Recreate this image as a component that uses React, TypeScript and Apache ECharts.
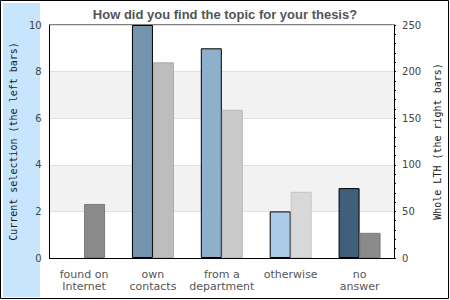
import React, { useEffect, useRef } from "react";
import * as echarts from "echarts";

const categories = ["found on\nInternet", "own\ncontacts", "from a\ndepartment", "otherwise", "no\nanswer"];
const currentValues = [0, 10, 9, 2, 3];
const wholeValues = [58, 210, 159, 71, 27];
const currentColors = ["#7393ae", "#7393ae", "#8fb0cc", "#abcce8", "#3f5f7a"];
const wholeColors = ["#8a8a8a", "#bdbdbd", "#cacaca", "#d8d8d8", "#8a8a8a"];
const wholeBorders = ["#7a7a7a", "#adadad", "#bababa", "#c4c4c4", "#7a7a7a"];
const title = "How did you find the topic for your thesis?";
const leftName = "Current selection (the left bars)";
const rightName = "Whole LTH (the right bars)";

export default function App() {
  const ref = useRef<HTMLDivElement>(null);
  useEffect(() => {
    if (!ref.current) return;
    document.body.style.margin = "0";
    const chart = echarts.init(ref.current, null, { renderer: "svg" });
    chart.setOption({
      animation: false,
      backgroundColor: "#fff",
      title: {
        text: title,
        left: "center",
        top: 3,
        textStyle: { fontFamily: "Liberation Sans", fontWeight: "bold", fontSize: 13, color: "#555" },
      },
      graphic: [
        { type: "rect", z: -20, silent: true, shape: { x: 0.5, y: 0.5, width: 448, height: 298 }, style: { fill: "#fff", stroke: "#000", lineWidth: 1 } },
        { type: "rect", z: -10, silent: true, shape: { x: 3, y: 3, width: 37, height: 294 }, style: { fill: "#c7e6fd" } },
      ],
      grid: { left: 40, right: 53, top: 25, bottom: 42, show: true, borderColor: "#000", borderWidth: 1, backgroundColor: "transparent", containLabel: false },
      xAxis: {
        type: "category",
        data: categories,
        axisLine: { lineStyle: { color: "#000", width: 1 } },
        axisTick: { show: false },
        axisLabel: { fontFamily: "DejaVu Sans", fontSize: 11, color: "#555", lineHeight: 12, margin: 10, interval: 0 },
      },
      yAxis: [
        {
          type: "value",
          min: 0,
          max: 10,
          interval: 2,
          position: "left",
          name: leftName,
          nameLocation: "middle",
          nameGap: 28,
          nameTextStyle: { fontFamily: "DejaVu Sans Mono", fontSize: 10, color: "#222" },
          axisLine: { show: true, lineStyle: { color: "#000" } },
          axisTick: { show: false },
          axisLabel: { fontFamily: "DejaVu Sans", fontSize: 10, color: "#444", margin: 8 },
          splitLine: { show: true, lineStyle: { color: "#e0e0e0" } },
          splitArea: { show: true, areaStyle: { color: ["#ffffff", "#f2f2f2"] } },
        },
        {
          type: "value",
          min: 0,
          max: 250,
          interval: 50,
          position: "right",
          name: rightName,
          nameLocation: "middle",
          nameGap: 34,
          nameTextStyle: { fontFamily: "DejaVu Sans Mono", fontSize: 10, color: "#222" },
          axisLine: { show: true, lineStyle: { color: "#000" } },
          axisTick: { show: true, length: 2, lineStyle: { color: "#000" } },
          minorTick: { show: true, splitNumber: 5, length: 2, lineStyle: { color: "#000" } },
          axisLabel: { fontFamily: "DejaVu Sans", fontSize: 10, color: "#444", margin: 8 },
          splitLine: { show: false },
        },
      ],
      series: [
        {
          type: "bar",
          yAxisIndex: 0,
          barWidth: 21,
          barGap: "0%",
          data: currentValues.map((v, i) => ({
            value: v,
            itemStyle: { color: currentColors[i], borderColor: v > 0 ? "#000" : "transparent", borderWidth: 1 },
          })),
        },
        {
          type: "bar",
          yAxisIndex: 1,
          barWidth: 21,
          barGap: "0%",
          data: wholeValues.map((v, i) => ({
            value: v,
            itemStyle: { color: wholeColors[i], borderColor: wholeBorders[i], borderWidth: 1 },
          })),
        },
      ],
    });
    return () => chart.dispose();
  }, []);
  return <div ref={ref} style={{ width: 450, height: 300, position: "fixed", left: 0, top: 0 }} />;
}
